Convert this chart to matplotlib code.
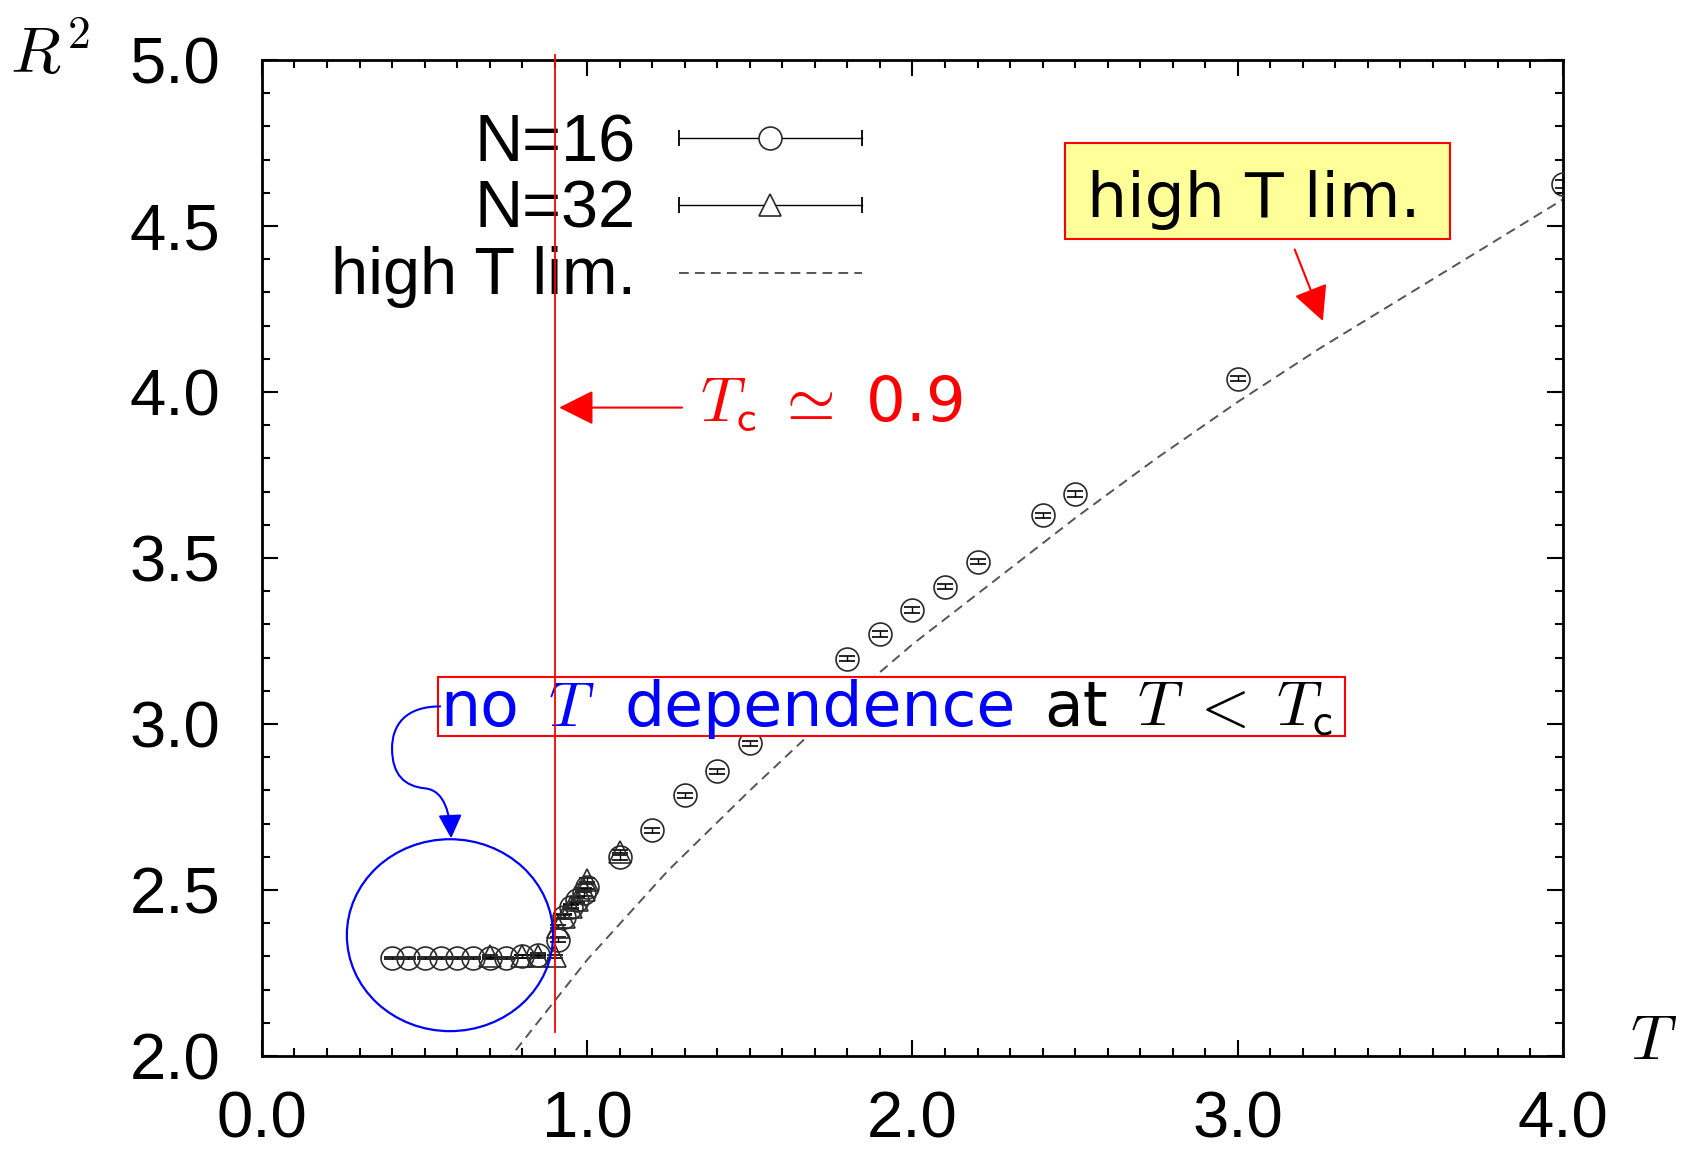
"""R^2 vs T with high-T limit"""
import matplotlib
matplotlib.use('Agg')
import matplotlib.pyplot as plt
from matplotlib.patches import Rectangle, Ellipse, FancyArrowPatch
from matplotlib.path import Path
from matplotlib.offsetbox import TextArea, HPacker, AnnotationBbox
from matplotlib.ticker import MultipleLocator

plt.rcParams['mathtext.fontset'] = 'cm'
plt.rcParams['font.family'] = ['Liberation Sans', 'DejaVu Sans']

# N=16 data (circles)
t16 = [0.40, 0.45, 0.50, 0.55, 0.60, 0.65, 0.70, 0.75, 0.80, 0.85,
       0.91, 0.93, 0.95, 0.97, 0.99, 1.00, 1.10, 1.20, 1.30, 1.40, 1.50,
       1.80, 1.90, 2.00, 2.10, 2.20, 2.40, 2.50, 3.00, 4.00]
r16 = [2.295, 2.295, 2.295, 2.295, 2.295, 2.295, 2.295, 2.295, 2.30, 2.305,
       2.35, 2.42, 2.45, 2.47, 2.49, 2.51, 2.598, 2.68, 2.785, 2.857, 2.942,
       3.197, 3.271, 3.343, 3.414, 3.489, 3.628, 3.693, 4.04, 4.627]
e16 = [0.004] * 10 + [0.008] * 19 + [0.012]

# N=32 data (triangles)
t32 = [0.70, 0.80, 0.85, 0.90, 0.91, 0.93, 0.95, 0.97, 0.99, 1.00, 1.10]
r32 = [2.30, 2.30, 2.30, 2.30, 2.39, 2.42, 2.45, 2.47, 2.50, 2.53, 2.615]
e32 = [0.005] * 11

# high T limit
t_hi = [0.75, 1.00, 1.25, 1.50, 1.75, 2.00, 2.25, 2.50, 2.75, 3.00, 3.25, 3.50, 3.75, 4.00]
r_hi = [1.98, 2.29, 2.56, 2.80, 3.03, 3.24, 3.43, 3.62, 3.80, 3.97, 4.13, 4.28, 4.43, 4.58]

t_c = 0.9
x_ticks = [0.0, 1.0, 2.0, 3.0, 4.0]
y_ticks = [2.0, 2.5, 3.0, 3.5, 4.0, 4.5, 5.0]

fig = plt.figure(figsize=(16.89, 11.53), dpi=100)
ax = fig.add_axes([0.1551, 0.0841, 0.7703, 0.8639])
ax.set_xlim(0, 4)
ax.set_ylim(2, 5)


def px(x, y):
    # full-size picture pixel -> data
    return (x - 262) / 325.0, 5 - (y - 59) / 332.3


# data
ax.plot(t_hi, r_hi, color='#555555', lw=1.4, dashes=(5, 3.2), zorder=2)
ax.errorbar(t16, r16, yerr=e16, fmt='o', ms=16.5, mfc='none', mec='#2a2a2a', mew=1.2,
            ecolor='black', elinewidth=1.0, capsize=6, capthick=1.6, zorder=3)
ax.errorbar(t32, r32, yerr=e32, fmt='^', ms=15.5, mfc='none', mec='#2a2a2a', mew=1.2,
            ecolor='black', elinewidth=1.0, capsize=6, capthick=1.6, zorder=3)

# axes style
ax.set_xticks(x_ticks)
ax.set_yticks(y_ticks)
ax.set_xticklabels(['%.1f' % v for v in x_ticks])
ax.set_yticklabels(['%.1f' % v for v in y_ticks])
ax.xaxis.set_minor_locator(MultipleLocator(0.1))
ax.yaxis.set_minor_locator(MultipleLocator(0.1))
ax.tick_params(which='both', direction='in', top=True, right=True, width=1.5)
ax.tick_params(which='major', length=11.5, labelsize=47, pad=30)
ax.tick_params(axis='x', which='major', pad=25)
ax.tick_params(which='minor', length=5.8)
for s in ax.spines.values():
    s.set_linewidth(2.0)

fig.text(0.006, 0.9367, r'$R^{2}$', fontsize=47, ha='left', va='baseline')
fig.text(0.965, 0.0815, r'$T$', fontsize=46, ha='left', va='baseline')

# legend drawn by hand
tr = ax.transAxes
leg_rows = [('N=16', 0.8976, 0.9217, 'o'), ('N=32', 0.8313, 0.8544, '^')]
for label, yb, yl, mk in leg_rows:
    ax.text(0.2875, yb, label, transform=tr, fontsize=48, ha='right', va='baseline', zorder=4)
    ax.plot([0.3205, 0.461], [yl, yl], transform=tr, color='black', lw=1.0, zorder=4)
    ax.plot([0.3205, 0.461], [yl, yl], transform=tr, ls='none', marker='|', ms=11,
            mew=1.3, color='black', zorder=4)
    ax.plot([0.3905], [yl], transform=tr, ls='none', marker=mk, ms=16.5 if mk == 'o' else 15.5,
            mfc='white', mec='#2a2a2a', mew=1.2, zorder=4)
ax.text(0.2875, 0.7651, 'high T lim.', transform=tr, fontsize=48, ha='right', va='baseline', zorder=4)
ax.plot([0.3205, 0.461], [0.7861, 0.7861], transform=tr, color='#555555', lw=1.4,
        dashes=(5, 3.2), zorder=4)

# Tc vertical line and arrow
ax.plot([t_c, t_c], [2.072, 5.015], color='red', lw=1.3, clip_on=False, zorder=7)
ax.annotate('', xy=(0.905, 3.953), xytext=(1.30, 3.953),
            arrowprops=dict(arrowstyle='-|>,head_length=0.4,head_width=0.2',
                            color='red', lw=1.5, mutation_scale=54), zorder=7)
ax.text(1.348, 3.914, r'$T_{\mathsf{c}}\;\simeq$ 0.9', color='red', family='DejaVu Sans',
        fontsize=45, va='baseline')

# "high T lim." box with arrow
ax.add_patch(Rectangle((2.468, 4.461), 3.652 - 2.468, 4.750 - 4.461, facecolor='#ffff99',
                       edgecolor='red', lw=1.5, zorder=5))
ax.text(2.538, 4.528, 'high T lim.', family='DejaVu Sans', fontsize=45.5,
        ha='left', va='baseline', zorder=6)
ax.annotate('', xy=(3.265, 4.206), xytext=(3.172, 4.437),
            arrowprops=dict(arrowstyle='-|>,head_length=0.4,head_width=0.2',
                            color='red', lw=1.5, mutation_scale=54), zorder=7)

# "no T dependence" box
ax.add_patch(Rectangle((0.5415, 2.963), 3.329 - 0.5415, 3.143 - 2.963, facecolor='white',
                       edgecolor='red', lw=1.5, zorder=5))
parts = [('no', 'blue'), (r'$T$', 'blue'), ('dependence', 'blue'),
         ('at', 'black'), (r'$T\;<\;T_{\mathsf{c}}$', 'black')]
areas = [TextArea(s, textprops=dict(color=c, fontsize=45.5, family='DejaVu Sans'))
         for s, c in parts]
pack = HPacker(children=areas, align='baseline', pad=0, sep=21)
ab = AnnotationBbox(pack, xy=(0.548, 3.046), xycoords='data', box_alignment=(0, 0.5),
                    frameon=False, pad=0, zorder=6)
ax.add_artist(ab)

# blue circle and curved arrow
ax.add_patch(Ellipse((0.578, 2.364), 0.634, 0.578, fill=False, edgecolor='blue',
                     lw=1.6, zorder=6, clip_on=False))
pts = [px(440, 706), px(405, 706), px(392, 725), px(392, 748),
       px(392, 775), px(405, 786), px(425, 788),
       px(445, 790), px(450, 815), px(451, 838)]
codes = [Path.MOVETO] + [Path.CURVE4] * 9
arrow = FancyArrowPatch(path=Path(pts, codes), arrowstyle='-|>,head_length=0.4,head_width=0.2',
                        mutation_scale=36, color='blue', lw=1.5, zorder=7)
ax.add_patch(arrow)

plt.savefig('out.png', dpi=100)
